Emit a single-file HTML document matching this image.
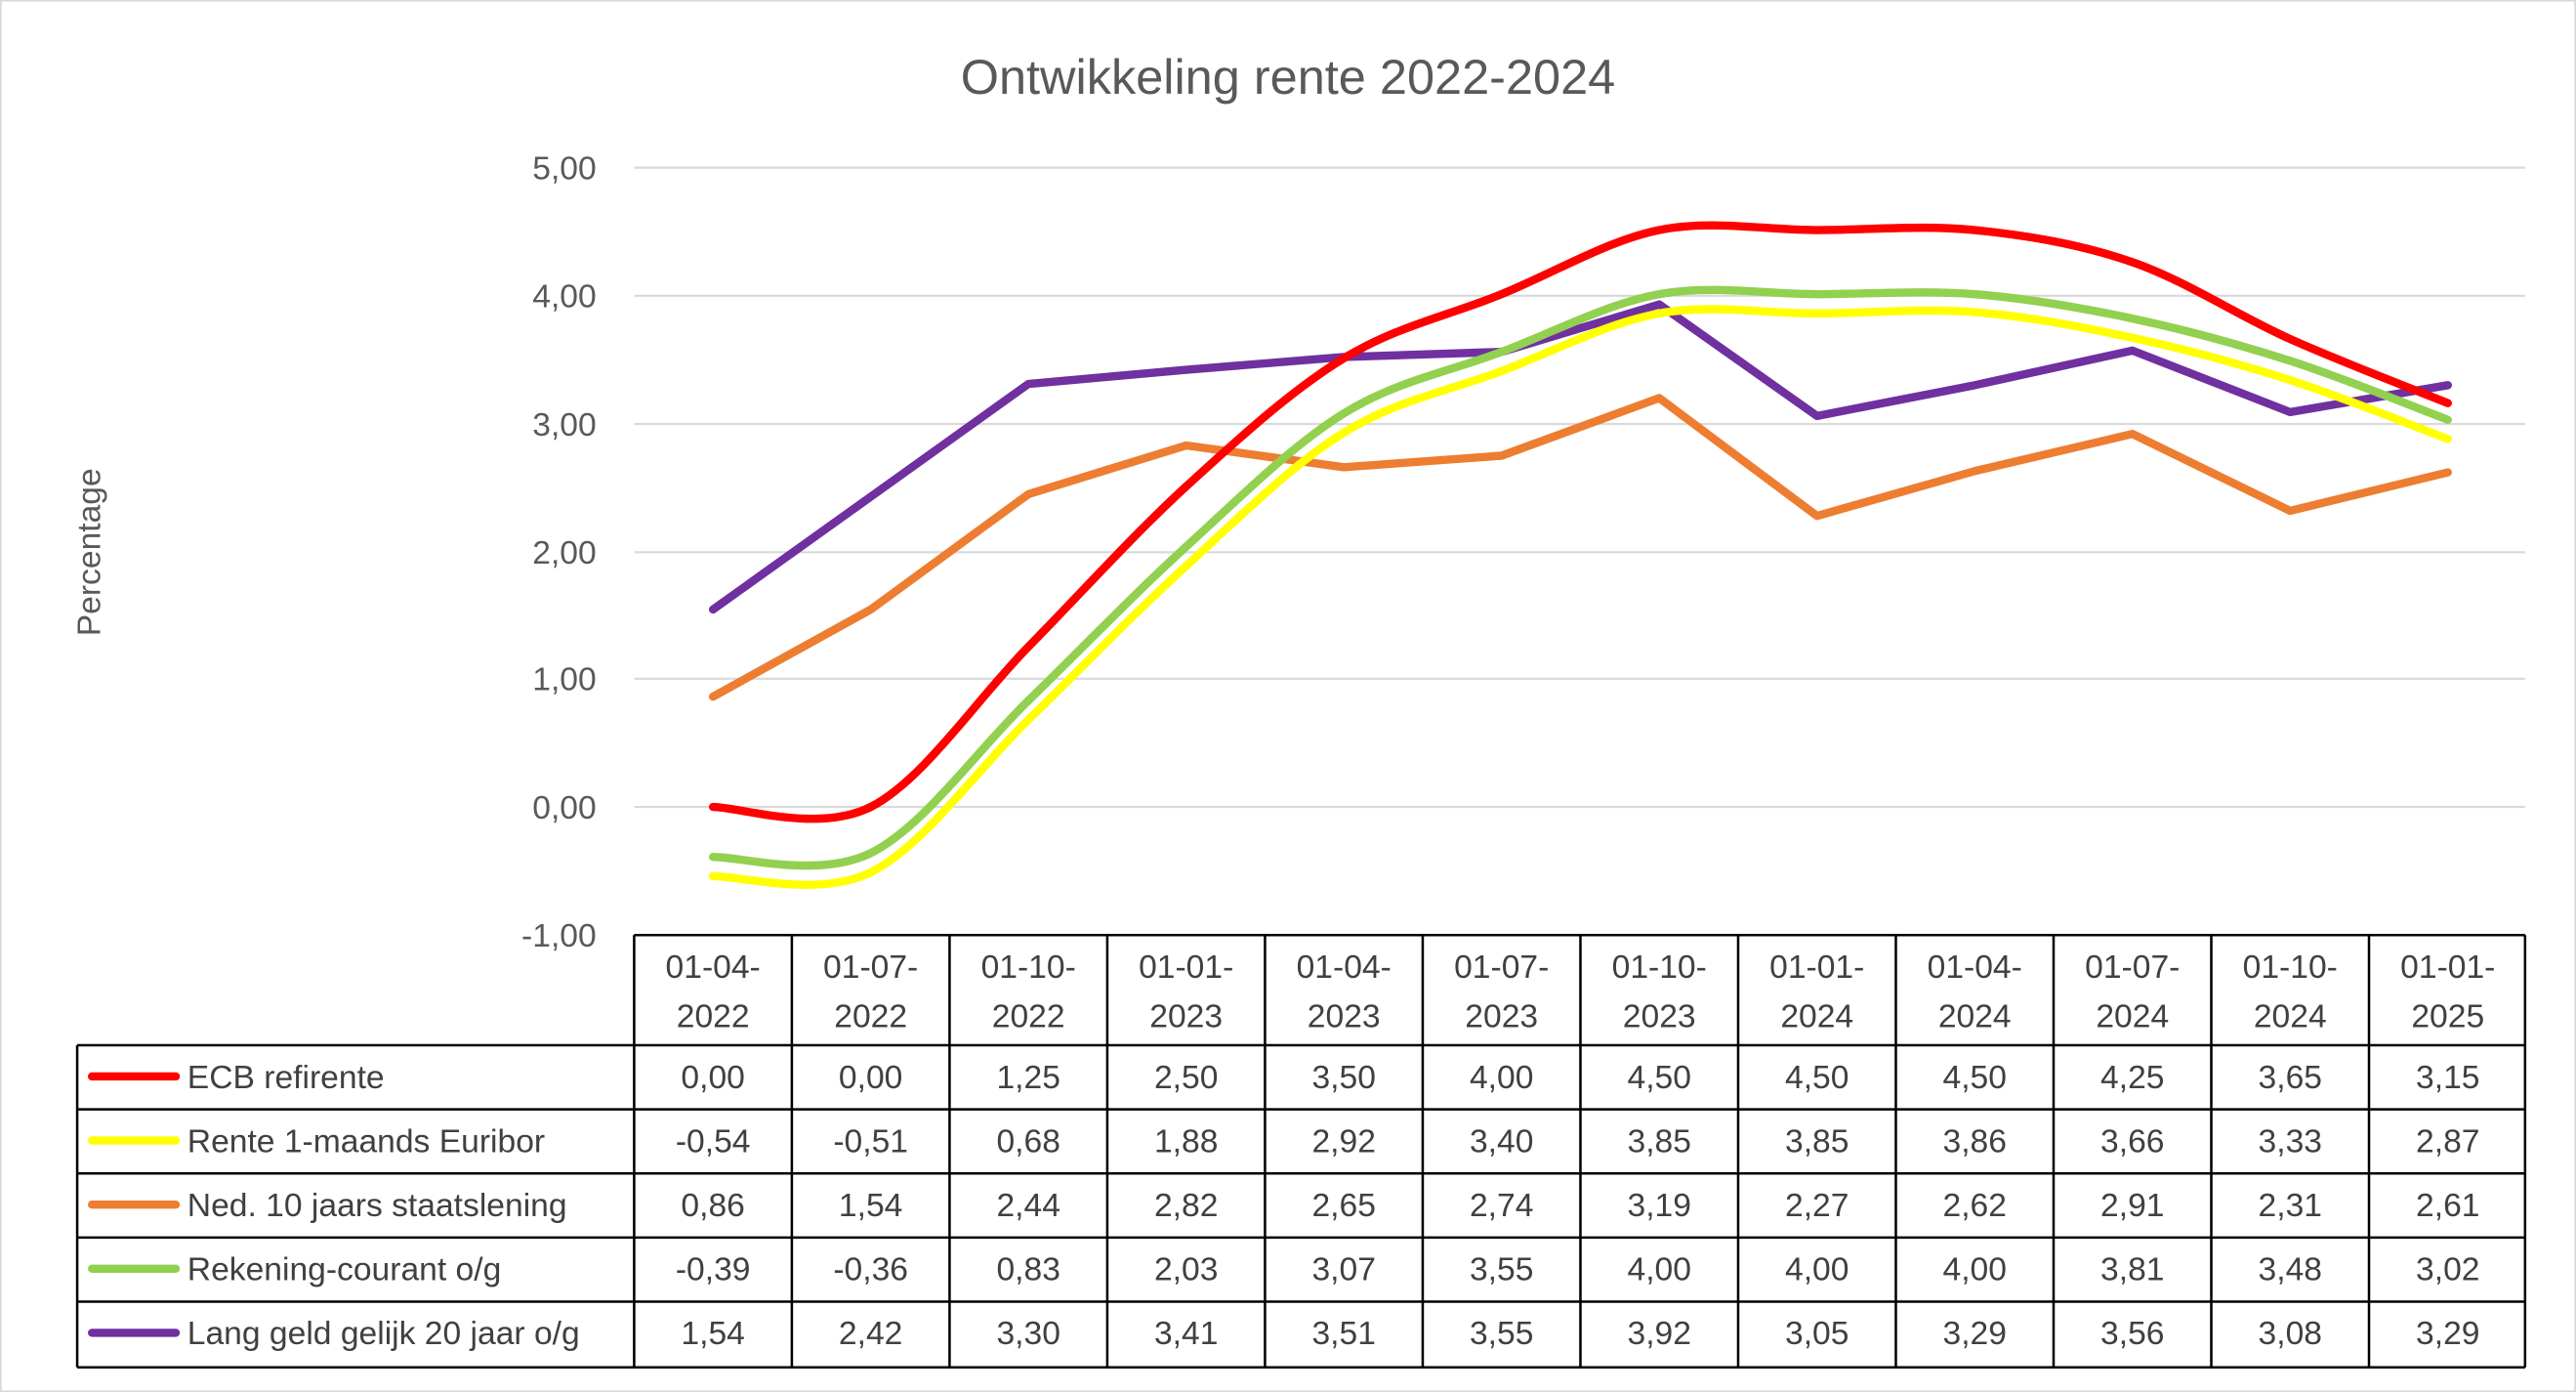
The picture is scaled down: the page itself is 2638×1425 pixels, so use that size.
<!DOCTYPE html>
<html><head><meta charset="utf-8"><style>
html,body{margin:0;padding:0;background:#fff;}
svg{display:block;}
text{font-family:"Liberation Sans",sans-serif;}
</style></head><body>
<svg id="s" width="2638" height="1425" viewBox="0 0 1568 847" preserveAspectRatio="none" xmlns="http://www.w3.org/2000/svg">
<rect x="0.5" y="0.5" width="1567" height="846" fill="#fff" stroke="#d9d9d9"/>
<text x="784" y="57" text-anchor="middle" font-size="30" fill="#595959">Ontwikkeling rente 2022-2024</text>
<g stroke="#d9d9d9" stroke-width="1.3">
<line x1="386" x2="1537" y1="102" y2="102"/><line x1="386" x2="1537" y1="180" y2="180"/>
<line x1="386" x2="1537" y1="258" y2="258"/><line x1="386" x2="1537" y1="336" y2="336"/>
<line x1="386" x2="1537" y1="413" y2="413"/><line x1="386" x2="1537" y1="491" y2="491"/>
</g>
<g font-size="20" fill="#595959" text-anchor="end">
<text x="363" y="109">5,00</text><text x="363" y="187">4,00</text><text x="363" y="265">3,00</text>
<text x="363" y="343">2,00</text><text x="363" y="420">1,00</text><text x="363" y="498">0,00</text><text x="363" y="576">-1,00</text>
</g>
<text transform="translate(61,336) rotate(-90)" text-anchor="middle" font-size="20" fill="#595959">Percentage</text>
<g id="lines" fill="none" stroke-width="5" stroke-linecap="round" stroke-linejoin="round"></g>
<g stroke="#000" stroke-width="1.5" fill="none">
<path d="M386 569 V832 M47 636 V832 M47 636 H1537 M47 675 H1537 M47 714 H1537 M47 753 H1537 M47 792 H1537 M47 832 H1537 M386 569 H1537"/>
<path d="M482 569V832M578 569V832M674 569V832M770 569V832M866 569V832M962 569V832M1058 569V832M1154 569V832M1250 569V832M1346 569V832M1442 569V832M1537 569V832"/>
</g>
<g font-size="20" fill="#404040" text-anchor="middle">
<text x="434" y="595">01-04-</text><text x="434" y="625">2022</text>
<text x="530" y="595">01-07-</text><text x="530" y="625">2022</text>
<text x="626" y="595">01-10-</text><text x="626" y="625">2022</text>
<text x="722" y="595">01-01-</text><text x="722" y="625">2023</text>
<text x="818" y="595">01-04-</text><text x="818" y="625">2023</text>
<text x="914" y="595">01-07-</text><text x="914" y="625">2023</text>
<text x="1010" y="595">01-10-</text><text x="1010" y="625">2023</text>
<text x="1106" y="595">01-01-</text><text x="1106" y="625">2024</text>
<text x="1202" y="595">01-04-</text><text x="1202" y="625">2024</text>
<text x="1298" y="595">01-07-</text><text x="1298" y="625">2024</text>
<text x="1394" y="595">01-10-</text><text x="1394" y="625">2024</text>
<text x="1490" y="595">01-01-</text><text x="1490" y="625">2025</text>
</g>
<g id="rows" font-size="20" fill="#404040"></g>
<g font-size="20" fill="#404040">
<text x="114" y="662">ECB refirente</text>
<text x="114" y="701">Rente 1-maands Euribor</text>
<text x="114" y="740">Ned. 10 jaars staatslening</text>
<text x="114" y="779">Rekening-courant o/g</text>
<text x="114" y="818">Lang geld gelijk 20 jaar o/g</text>
</g>
<g font-size="20" fill="#404040" text-anchor="middle">
<text y="662"><tspan x="434">0,00</tspan><tspan x="530">0,00</tspan><tspan x="626">1,25</tspan><tspan x="722">2,50</tspan><tspan x="818">3,50</tspan><tspan x="914">4,00</tspan><tspan x="1010">4,50</tspan><tspan x="1106">4,50</tspan><tspan x="1202">4,50</tspan><tspan x="1298">4,25</tspan><tspan x="1394">3,65</tspan><tspan x="1490">3,15</tspan></text>
<text y="701"><tspan x="434">-0,54</tspan><tspan x="530">-0,51</tspan><tspan x="626">0,68</tspan><tspan x="722">1,88</tspan><tspan x="818">2,92</tspan><tspan x="914">3,40</tspan><tspan x="1010">3,85</tspan><tspan x="1106">3,85</tspan><tspan x="1202">3,86</tspan><tspan x="1298">3,66</tspan><tspan x="1394">3,33</tspan><tspan x="1490">2,87</tspan></text>
<text y="740"><tspan x="434">0,86</tspan><tspan x="530">1,54</tspan><tspan x="626">2,44</tspan><tspan x="722">2,82</tspan><tspan x="818">2,65</tspan><tspan x="914">2,74</tspan><tspan x="1010">3,19</tspan><tspan x="1106">2,27</tspan><tspan x="1202">2,62</tspan><tspan x="1298">2,91</tspan><tspan x="1394">2,31</tspan><tspan x="1490">2,61</tspan></text>
<text y="779"><tspan x="434">-0,39</tspan><tspan x="530">-0,36</tspan><tspan x="626">0,83</tspan><tspan x="722">2,03</tspan><tspan x="818">3,07</tspan><tspan x="914">3,55</tspan><tspan x="1010">4,00</tspan><tspan x="1106">4,00</tspan><tspan x="1202">4,00</tspan><tspan x="1298">3,81</tspan><tspan x="1394">3,48</tspan><tspan x="1490">3,02</tspan></text>
<text y="818"><tspan x="434">1,54</tspan><tspan x="530">2,42</tspan><tspan x="626">3,30</tspan><tspan x="722">3,41</tspan><tspan x="818">3,51</tspan><tspan x="914">3,55</tspan><tspan x="1010">3,92</tspan><tspan x="1106">3,05</tspan><tspan x="1202">3,29</tspan><tspan x="1298">3,56</tspan><tspan x="1394">3,08</tspan><tspan x="1490">3,29</tspan></text>
</g>
<g stroke-width="5" stroke-linecap="round">
<line x1="56" x2="107" y1="655" y2="655" stroke="#ff0000"/>
<line x1="56" x2="107" y1="694" y2="694" stroke="#ffff00"/>
<line x1="56" x2="107" y1="733" y2="733" stroke="#ed7d31"/>
<line x1="56" x2="107" y1="772" y2="772" stroke="#92d050"/>
<line x1="56" x2="107" y1="811" y2="811" stroke="#7030a0"/>
</g>
</svg>
<script>
var series=[
["#ed7d31",[0.86,1.54,2.44,2.82,2.65,2.74,3.19,2.27,2.62,2.91,2.31,2.61],false],
["#7030a0",[1.54,2.42,3.30,3.41,3.51,3.55,3.92,3.05,3.29,3.56,3.08,3.29],false],
["#ffff00",[-0.54,-0.51,0.68,1.88,2.92,3.40,3.85,3.85,3.86,3.66,3.33,2.87],true],
["#92d050",[-0.39,-0.36,0.83,2.03,3.07,3.55,4.00,4.00,4.00,3.81,3.48,3.02],true],
["#ff0000",[0,0,1.25,2.5,3.5,4,4.5,4.5,4.5,4.25,3.65,3.15],true]];
var g=document.getElementById('lines');
series.forEach(function(s){
 var p=s[1].map(function(v,i){return [434+96*i,491-78*v];});
 var d='M'+p[0][0]+' '+p[0][1];
 for(var i=0;i<p.length-1;i++){
  if(s[2]){
   var a=p[i-1]||p[i],b=p[i],c=p[i+1],e=p[i+2]||p[i+1];
   d+=' C'+(b[0]+(c[0]-a[0])/6)+' '+(b[1]+(c[1]-a[1])/6)+' '+(c[0]-(e[0]-b[0])/6)+' '+(c[1]-(e[1]-b[1])/6)+' '+c[0]+' '+c[1];
  } else d+=' L'+p[i+1][0]+' '+p[i+1][1];
 }
 var el=document.createElementNS('http://www.w3.org/2000/svg','path');
 el.setAttribute('d',d);el.setAttribute('stroke',s[0]);g.appendChild(el);
});
</script>
</body></html>
